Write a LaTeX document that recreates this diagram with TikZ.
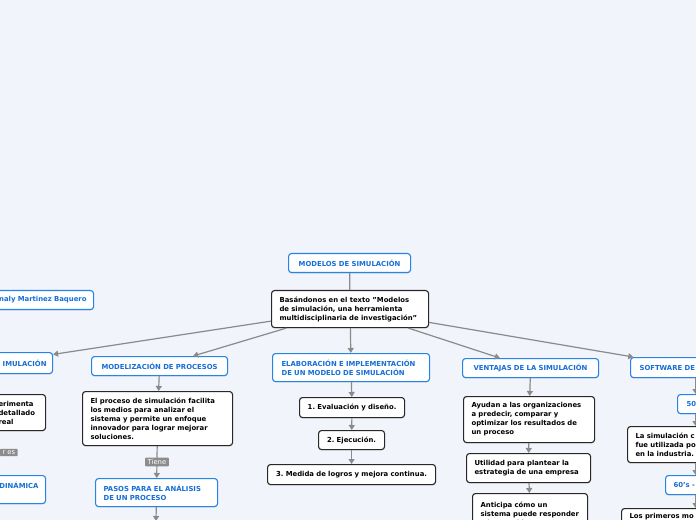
\documentclass[tikz,border=0pt]{standalone}
\usepackage{fontspec}
\setmainfont{DejaVu Sans}
\usetikzlibrary{arrows.meta,shadows}
\newdimen\pxu \pxu=0.75pt
\definecolor{bg}{RGB}{242,244,252}
\definecolor{bluebd}{RGB}{38,132,230}
\definecolor{bluetx}{RGB}{22,110,215}
\definecolor{darkbd}{RGB}{40,40,40}
\definecolor{linegray}{RGB}{138,138,138}
\definecolor{labgray}{RGB}{140,140,140}
\frenchspacing
\tikzset{
 boxbase/.style={rounded corners=3\pxu, fill=white, line width=1.1\pxu,
   font=\fontsize{5.15}{6.75}\selectfont\bfseries, inner xsep=0pt, inner ysep=0pt,
   anchor=north west, drop shadow={shadow xshift=0pt, shadow yshift=-0.7pt, opacity=0.3}},
 bbox/.style={boxbase, draw=bluebd, text=bluetx},
 kbox/.style={boxbase, draw=darkbd, text=black},
 conn/.style={draw=linegray, line width=0.9pt, -{Triangle[width=4.5pt,length=3.75pt]}},
 plainline/.style={draw=linegray, line width=0.9pt},
 tag/.style={fill=labgray, text=white, font=\fontsize{5.1}{6}\selectfont, inner xsep=1.9pt, inner ysep=1.3pt, rounded corners=0.6pt},
}
\begin{document}
\begin{tikzpicture}[x=0.75pt,y=-0.75pt]
\useasboundingbox (0,0) rectangle (696,520);
\fill[bg] (0,0) rectangle (696,520);
\clip (0,0) rectangle (696,520);

% centre
\node[bbox, minimum width=122\pxu, minimum height=19\pxu, text width=110\pxu, align=center] (title) at (288,253) {MODELOS DE SIMULACIÓN};
\node[kbox, minimum width=157\pxu, minimum height=37\pxu, text width=141\pxu, align=left] (main) at (271,290) {Basándonos en el texto {\char34}Modelos\\de simulación, una herramienta\\multidisciplinaria de investigación{\char34}};

% left edge
\node[bbox, minimum width=153\pxu, minimum height=19\pxu, text width=139\pxu, align=right] (author) at (-60,290) {naly Martinez Baquero};
\node[bbox, minimum width=112\pxu, minimum height=21\pxu, text width=100\pxu, align=right] (sim) at (-60,352) {IMULACIÓN};
\node[kbox, minimum width=53\pxu, minimum height=36\pxu, text width=41\pxu, align=left] (leftk) at (-8,394) {erimenta\\detallado\\real};
\node[tag, anchor=east] (tagl) at (18,452.5) {r es};
\node[bbox, minimum width=105\pxu, minimum height=28\pxu, text width=91\pxu, align=right] (dyn) at (-60,475) {DINÁMICA\\~};

% modelizacion column
\node[bbox, minimum width=136\pxu, minimum height=19\pxu, text width=124\pxu, align=center] (modl) at (91,356) {MODELIZACIÓN DE PROCESOS};
\node[kbox, minimum width=150\pxu, minimum height=54\pxu, text width=134\pxu, align=left] (m1) at (82,391) {El proceso de simulación facilita\\los medios para analizar el\\sistema y permite un enfoque\\innovador para lograr mejorar\\soluciones.};
\node[bbox, minimum width=122\pxu, minimum height=28\pxu, text width=106\pxu, align=left] (pasos) at (95,478) {PASOS PARA EL ANÁLISIS\\DE UN PROCESO};
\coordinate (pasosnext) at (156,521);

% elaboracion column
\node[bbox, minimum width=157\pxu, minimum height=28\pxu, text width=139\pxu, align=left] (elab) at (272,353) {ELABORACIÓN E IMPLEMENTACIÓN\\DE UN MODELO DE SIMULACIÓN};
\node[kbox, minimum width=105\pxu, minimum height=20\pxu, text width=95\pxu, align=center] (e1) at (299,397) {1. Evaluación y diseño.};
\node[kbox, minimum width=66\pxu, minimum height=19\pxu, text width=56\pxu, align=center] (e2) at (318,430) {2. Ejecución.};
\node[kbox, minimum width=168\pxu, minimum height=20\pxu, text width=158\pxu, align=center] (e3) at (267,464) {3. Medida de logros y mejora continua.};

% ventajas column
\node[bbox, minimum width=136\pxu, minimum height=19\pxu, text width=124\pxu, align=center] (vent) at (462,358) {VENTAJAS DE LA SIMULACIÓN};
\node[kbox, minimum width=131\pxu, minimum height=46\pxu, text width=115\pxu, align=left] (v1) at (463,396) {Ayudan a las organizaciones\\a predecir, comparar y\\optimizar los resultados de\\un proceso};
\node[kbox, minimum width=124\pxu, minimum height=29\pxu, text width=108\pxu, align=left] (v2) at (466,453) {Utilidad para plantear la\\estrategia de una empresa};
\node[kbox, minimum width=115\pxu, minimum height=40\pxu, text width=99\pxu, align=left] (v3) at (472,493) {Anticipa cómo un\\sistema puede responder\\a los cambios};

% software column
\node[bbox, minimum width=130\pxu, minimum height=20\pxu, text width=112\pxu, align=left] (soft) at (630,357) {SOFTWARE DE};
\node[bbox, minimum width=36\pxu, minimum height=19\pxu, text width=18\pxu, align=left] (s50) at (677,394) {50};
\node[kbox, minimum width=136\pxu, minimum height=36\pxu, text width=120\pxu, align=left] (s1) at (627,426) {La simulación c\\fue utilizada po\\en la industria.};
\node[bbox, minimum width=60\pxu, minimum height=19\pxu, text width=44\pxu, align=left] (s60) at (665,475) {60{\char39}s -};
\node[kbox, minimum width=148\pxu, minimum height=16\pxu, text width=132\pxu, align=left] (s2) at (621,508) {Los primeros mo};

% connectors
\draw[plainline] (title) -- (main);
\draw[conn] (main) -- (sim);
\draw[conn] (main) -- (modl);
\draw[conn] (main) -- (elab);
\draw[conn] (main) -- (vent);
\draw[conn] (main) -- (soft);
\draw[conn] (modl) -- (m1);
\draw[conn] (m1) -- node[tag] (tiene) {Tiene} (pasos);
\draw[conn] (pasos) -- (pasosnext);
\draw[conn] (elab) -- (e1);
\draw[conn] (e1) -- (e2);
\draw[conn] (e2) -- (e3);
\draw[conn] (vent) -- (v1);
\draw[conn] (v1) -- (v2);
\draw[conn] (v2) -- (v3);
\draw[conn] (soft) -- (s50);
\draw[conn] (s50) -- (s1);
\draw[conn] (s1) -- (s60);
\draw[conn] (s60) -- (s2);
\end{tikzpicture}
\end{document}
